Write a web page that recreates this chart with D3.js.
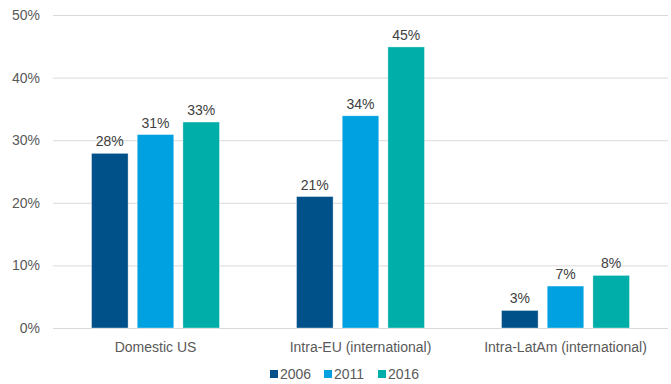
<!DOCTYPE html>
<html>
<head>
<meta charset="utf-8">
<script src="https://cdn.jsdelivr.net/npm/d3@7"></script>
<style>
  body { margin: 0; background: #fff; }
  text { font-family: "Liberation Sans", Arial, sans-serif; }
</style>
</head>
<body>
<div id="viz"></div>
<script>
var categories = ["Domestic US", "Intra-EU (international)", "Intra-LatAm (international)"];
var years = ["2006", "2011", "2016"];
var v2006 = [27.9, 21.0, 2.8];
var v2011 = [30.9, 33.9, 6.7];
var v2016 = [32.9, 44.9, 8.4];
var labels2006 = ["28%", "21%", "3%"];
var labels2011 = ["31%", "34%", "7%"];
var labels2016 = ["33%", "45%", "8%"];
var yTicks = [0, 10, 20, 30, 40, 50];
var colors = ["#00518a", "#00a1e0", "#00aea9"];

var width = 671, height = 384;
var margin = {top: 15, right: 3, bottom: 56, left: 53};

var svg = d3.select("#viz")
    .append("svg")
    .attr("width", width)
    .attr("height", height);

var series = years.map(function (yr, i) {
    var vals = [v2006, v2011, v2016][i];
    var labs = [labels2006, labels2011, labels2016][i];
    return categories.map(function (c, j) {
        return {cat: c, year: yr, value: vals[j], label: labs[j], color: colors[i]};
    });
});

var x0 = d3.scaleBand()
    .domain(categories)
    .range([margin.left, width - margin.right])
    .paddingInner(0.376)
    .paddingOuter(0.188);

var x1 = d3.scaleBand()
    .domain(years)
    .range([0, x0.bandwidth()])
    .paddingInner(0.2)
    .paddingOuter(0);

var y = d3.scaleLinear()
    .domain([0, 50])
    .range([height - margin.bottom, margin.top]);

// gridlines + y labels
var yAxis = svg.append("g")
    .attr("transform", "translate(" + margin.left + ",0)")
    .call(d3.axisLeft(y)
        .tickValues(yTicks)
        .tickSize(-(width - margin.left - margin.right))
        .tickPadding(13)
        .tickFormat(function (d) { return d + "%"; }));
yAxis.select(".domain").remove();
yAxis.selectAll("line").attr("stroke", "#d9d9d9").attr("stroke-width", 1);
yAxis.selectAll("text")
    .attr("fill", "#595959")
    .style("font-size", "14px");

// bars
series.forEach(function (s) {
    svg.append("g")
        .selectAll("rect")
        .data(s)
        .enter()
        .append("rect")
        .attr("x", function (d) { return x0(d.cat) + x1(d.year); })
        .attr("y", function (d) { return y(d.value); })
        .attr("width", x1.bandwidth())
        .attr("height", function (d) { return y(0) - y(d.value); })
        .attr("fill", function (d) { return d.color; })
        .attr("stroke", "#ffffff")
        .attr("stroke-opacity", 0.5)
        .attr("stroke-width", 0.7);

    svg.append("g")
        .selectAll("text")
        .data(s)
        .enter()
        .append("text")
        .attr("x", function (d) { return x0(d.cat) + x1(d.year) + x1.bandwidth() / 2; })
        .attr("y", function (d) { return y(d.value) - 7; })
        .attr("text-anchor", "middle")
        .attr("fill", "#404040")
        .style("font-size", "14px")
        .text(function (d) { return d.label; });
});

// category labels
svg.append("g")
    .selectAll("text")
    .data(categories)
    .enter()
    .append("text")
    .attr("x", function (d) { return x0(d) + x0.bandwidth() / 2; })
    .attr("y", y(0) + 24)
    .attr("text-anchor", "middle")
    .attr("fill", "#595959")
    .style("font-size", "14px")
    .text(function (d) { return d; });

// legend
var legendX = [270, 324, 378];
var legend = svg.append("g")
    .selectAll("g")
    .data(years)
    .enter()
    .append("g")
    .attr("transform", function (d, i) { return "translate(" + legendX[i] + ",370)"; });
legend.append("rect")
    .attr("width", 8)
    .attr("height", 8)
    .attr("fill", function (d, i) { return colors[i]; });
legend.append("text")
    .attr("x", 10)
    .attr("y", 9)
    .attr("fill", "#595959")
    .style("font-size", "14px")
    .text(function (d) { return d; });
</script>
</body>
</html>
